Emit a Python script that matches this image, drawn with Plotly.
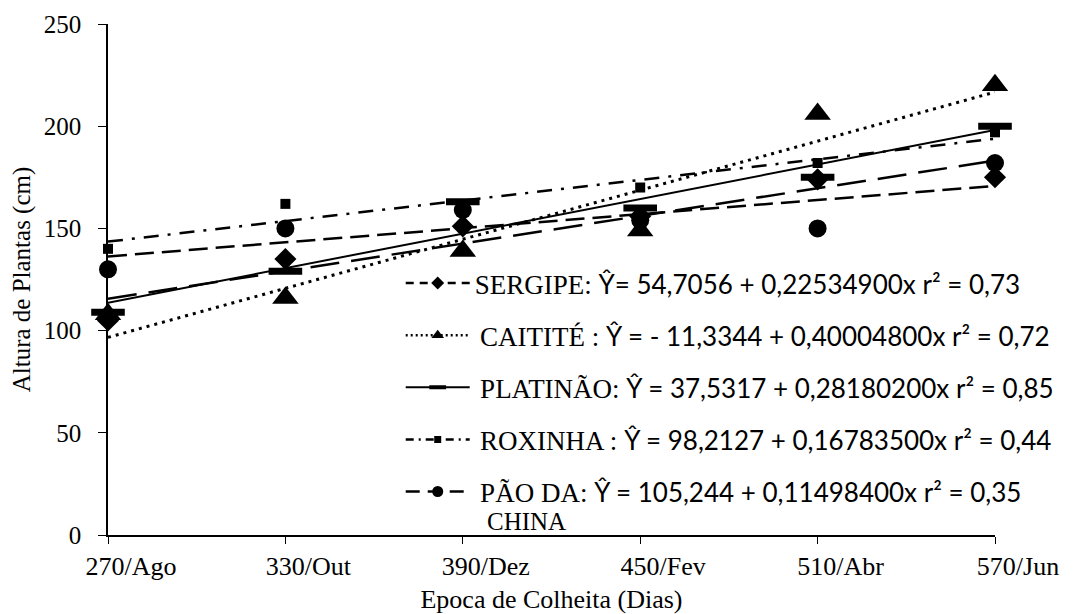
import plotly.graph_objects as go

# ---- data ----
categories = ["270/Ago", "330/Out", "390/Dez", "450/Fev", "510/Abr", "570/Jun"]
days = [270, 330, 390, 450, 510, 570]

sergipe = [105, 135, 151, 156, 174, 175]
caitite = [108, 116, 139, 149, 206, 220]
platinao = [109, 129, 163, 160, 175, 200]
roxinha = [140, 162, 161, 170, 182, 197]
pao_da_china = [130, 150, 159, 154, 150, 182]

series_names = ["SERGIPE", "CAITITÉ", "PLATINÃO", "ROXINHA", "PÃO DA CHINA"]
intercepts = [54.7056, -11.3344, 37.5317, 98.2127, 105.244]
slopes = [0.225349, 0.400048, 0.281802, 0.167835, 0.114984]

legend_names = ["SERGIPE:", "\u2009CAITITÉ :", "\u2009PLATINÃO:", "\u2009ROXINHA :", "\u2009PÃO DA:"]
legend_eqs = [
    "Ŷ= 54,7056 + 0,22534900x r² = 0,73",
    "Ŷ = - 11,3344 + 0,40004800x r² = 0,72",
    "Ŷ = 37,5317 + 0,28180200x r² = 0,85",
    "Ŷ = 98,2127 + 0,16783500x r² = 0,44",
    "Ŷ = 105,244 + 0,11498400x r² = 0,35",
]
legend_wrap = "CHINA"

values = [sergipe, caitite, platinao, roxinha, pao_da_china]

# ---- styles ----
SERIF = "Liberation Serif"
SANS = "Lato"
marker_styles = [
    dict(symbol="diamond", size=17, color="black"),
    dict(symbol="triangle-up", size=23, color="black"),
    dict(symbol="line-ew", size=24, color="black", line=dict(color="black", width=7)),
    dict(symbol="square", size=10, color="black"),
    dict(symbol="circle", size=18, color="black"),
]
trend_styles = [
    dict(color="black", width=2.5, dash="29px,12px"),
    dict(color="black", width=3, dash="3px,5px"),
    dict(color="black", width=2, dash="solid"),
    dict(color="black", width=2.5, dash="15px,9px,3px,9px"),
    dict(color="black", width=2.5, dash="19px,8px"),
]
legend_line_styles = [
    dict(color="black", width=2.5, dash="8px,6px"),
    dict(color="black", width=2.5, dash="2px,3px"),
    dict(color="black", width=2, dash="solid"),
    dict(color="black", width=2.5, dash="8px,5px,2px,5px"),
    dict(color="black", width=2.5, dash="14px,8px"),
]
legend_marker_styles = [
    dict(symbol="diamond", size=10, color="black"),
    dict(symbol="triangle-up", size=11, color="black"),
    dict(symbol="line-ew", size=12, color="black", line=dict(color="black", width=4)),
    dict(symbol="square", size=7, color="black"),
    dict(symbol="circle", size=11, color="black"),
]

fig = go.Figure()

x0, x1 = days[0], days[-1]
for i, name in enumerate(series_names):
    # trend line from the regression equation
    fig.add_trace(go.Scatter(
        x=[x0, x1],
        y=[intercepts[i] + slopes[i] * x0, intercepts[i] + slopes[i] * x1],
        mode="lines", line=trend_styles[i], showlegend=False,
        hoverinfo="skip", cliponaxis=False,
    ))

for i, name in enumerate(series_names):
    fig.add_trace(go.Scatter(
        x=days, y=values[i], mode="markers", marker=marker_styles[i],
        name=name, showlegend=False, cliponaxis=False,
    ))

for i, name in enumerate(series_names):
    label = (legend_names[i] + " <span style=\"font-family:" + SANS + "; font-size:26px\">"
             + legend_eqs[i] + "</span>")
    fig.add_trace(go.Scatter(
        x=[None], y=[None], mode="lines+markers",
        line=legend_line_styles[i], marker=legend_marker_styles[i],
        name=label, legendgroup="g%d" % i, showlegend=True,
    ))

fig.add_annotation(
    text=legend_wrap, xref="paper", yref="paper", x=0.425, y=0.026,
    xanchor="left", yanchor="middle", showarrow=False,
    font=dict(family=SERIF, size=25, color="black"),
)

fig.update_layout(
    width=1073, height=614,
    margin=dict(l=100, r=86, t=16, b=87, autoexpand=False),
    paper_bgcolor="white", plot_bgcolor="white",
    font=dict(family=SERIF, size=25, color="black"),
    showlegend=True,
    legend=dict(
        x=0.33, xanchor="left", y=0.54, yanchor="top",
        bgcolor="rgba(0,0,0,0)", borderwidth=0,
        itemwidth=64, tracegroupgap=14, valign="middle",
        font=dict(family=SERIF, size=27, color="black"),
        itemclick=False, itemdoubleclick=False,
    ),
    xaxis=dict(
        range=[x0, x1], tickvals=days, ticktext=categories,
        ticks="outside", ticklen=7, tickcolor="black", tickwidth=1.2,
        showline=True, linecolor="black", linewidth=1.5,
        showgrid=False, zeroline=False, ticklabelshift=23,
        automargin=False,
        tickfont=dict(family=SERIF, size=26),
        title=dict(text="Epoca de Colheita (Dias)", standoff=10,
                   font=dict(family=SERIF, size=26)),
    ),
    yaxis=dict(
        range=[0, 250], tickvals=[0, 50, 100, 150, 200, 250],
        ticks="outside", ticklen=8, tickcolor="black", tickwidth=1.2,
        showline=True, linecolor="black", linewidth=1.5,
        showgrid=False, zeroline=False, ticklabelstandoff=12,
        automargin=False,
        tickfont=dict(family=SERIF, size=25),
        title=dict(text="Altura de Plantas (cm)", standoff=14,
                   font=dict(family=SERIF, size=25)),
    ),
)

fig.write_html("out.html")
